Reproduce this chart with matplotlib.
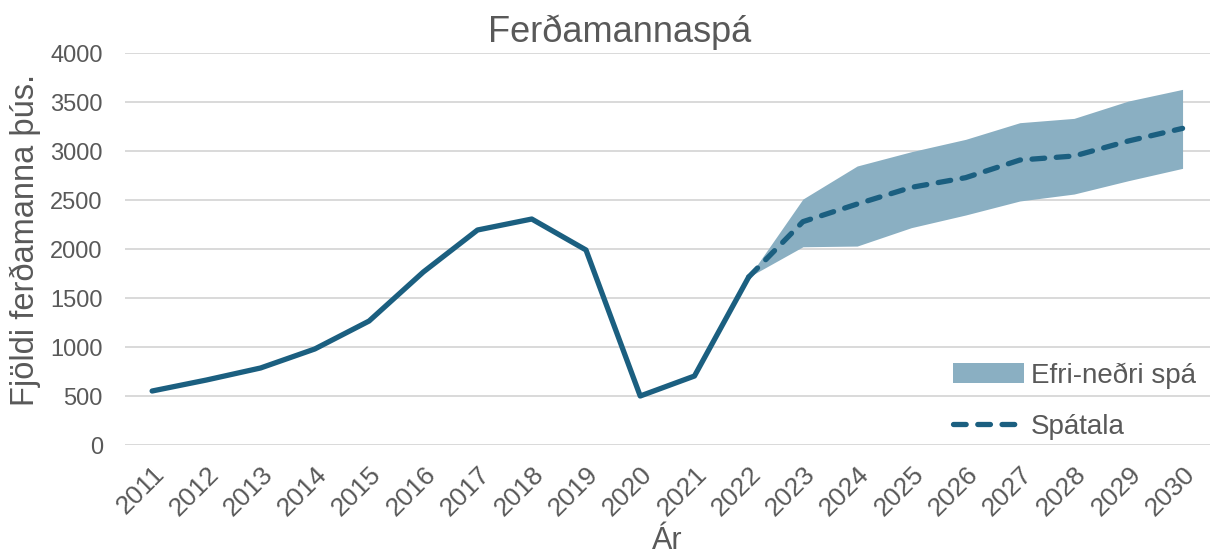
import matplotlib.pyplot as plt
import numpy as np

plt.rcParams['font.family'] = ['Liberation Sans', 'DejaVu Sans']

# --- gögn ---
ar = [str(a) for a in range(2011, 2031)]
sogulegt = [551, 663, 786, 980, 1265, 1765, 2194, 2306, 1990, 500, 704, 1714]
spa_ar = ar[11:]
spatala = [1714, 2279, 2459, 2629, 2728, 2908, 2949, 3102, 3231]
efri = [1714, 2510, 2847, 2993, 3119, 3289, 3333, 3510, 3629]
nedri = [1714, 2023, 2030, 2218, 2347, 2490, 2561, 2697, 2823]

litur_lina = '#1b5f80'
litur_band = '#8aafc2'
litur_texti = '#595959'

fig = plt.figure(figsize=(12.16, 5.58), dpi=100)
ax = fig.add_axes([0.1028, 0.2025, 0.892, 0.7025])

x_all = np.arange(len(ar))
x_spa = np.arange(11, 11 + len(spa_ar))

ax.fill_between(x_spa, nedri, efri, color=litur_band, linewidth=0, label='Efri-neðri spá', zorder=2)
ax.plot(x_all[:len(sogulegt)], sogulegt, color=litur_lina, linewidth=3.8,
        solid_capstyle='round', solid_joinstyle='round', zorder=3)
ax.plot(x_spa, spatala, color=litur_lina, linewidth=3.8, linestyle=(0, (2.4, 2.2)),
        dash_capstyle='round', label='Spátala', zorder=3)

ax.set_xlim(-0.5, len(ar) - 0.5)
ax.set_ylim(0, 4000)
ax.set_yticks(range(0, 4001, 500))
ax.set_xticks(x_all)
ax.set_xticklabels(ar, rotation=45, ha='right', rotation_mode='anchor')
ax.tick_params(length=0, colors=litur_texti)
ax.tick_params(axis='y', pad=16, labelsize=17)
ax.tick_params(axis='x', pad=12, labelsize=19)
ax.grid(axis='y', color='#d9d9d9', linewidth=1.4, zorder=0)
ax.set_axisbelow(True)
for s in ax.spines.values():
    s.set_visible(False)

ax.set_title('Ferðamannaspá', fontsize=26, color=litur_texti, pad=8, x=0.456)
ax.set_ylabel('Fjöldi ferðamanna þús.', fontsize=23.5, color=litur_texti)
ax.yaxis.set_label_coords(-0.077, 0.523)
ax.set_xlabel('Ár', fontsize=22, color=litur_texti, labelpad=4)

leg = ax.legend(loc='lower right', frameon=False, fontsize=20, labelcolor=litur_texti,
                handlelength=2.55, handletextpad=0.25, labelspacing=0.9,
                bbox_to_anchor=(1.01, -0.05))

fig.savefig('out.png', dpi=100)
